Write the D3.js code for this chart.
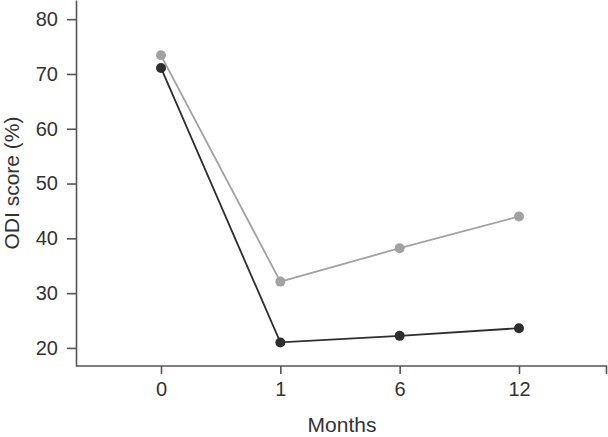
<!DOCTYPE html>
<html lang="en">
  <head>
    <meta charset="utf-8">
    <title>ODI score</title>
    <script src="https://cdn.jsdelivr.net/npm/d3@7"></script>
    <style>
      body { margin: 0; background: #fff; }
      svg { display: block; font-family: "Liberation Sans", Arial, sans-serif; }
    </style>
  </head>
  <body>
    <script>
      var months = ["0", "1", "6", "12"];
      var grayValues = [73.4, 32.1, 38.2, 44.0];
      var blackValues = [71.1, 21.0, 22.2, 23.6];
      var yTicks = [20, 30, 40, 50, 60, 70, 80];

      var w = 608;
      var h = 437;
      var left = 76;     // y axis position
      var bottom = 366;  // x axis position
      var axisColor = "#555";
      var textColor = "#333";

      var svg = d3.select("body")
                  .append("svg")
                  .attr("width", w)
                  .attr("height", h);

      // categories evenly spaced
      var xScale = d3.scalePoint()
                     .domain(months)
                     .range([161, 519]);

      var yScale = d3.scaleLinear()
                     .domain([16.7, 83.5])
                     .range([bottom, 0]);

      // y axis
      var yAxis = d3.axisLeft(yScale)
                    .tickValues(yTicks)
                    .tickSizeInner(9)
                    .tickSizeOuter(0)
                    .tickPadding(9);

      var gy = svg.append("g")
         .attr("transform", "translate(" + left + ",0)")
         .call(yAxis);
      gy.select(".domain").attr("stroke", axisColor).attr("stroke-width", 1.6);
      gy.selectAll(".tick line").attr("stroke", axisColor).attr("stroke-width", 1.6);
      gy.selectAll(".tick text")
        .attr("fill", textColor)
        .attr("font-size", "20px");

      // x axis
      var xAxis = d3.axisBottom(xScale)
                    .tickSizeInner(8)
                    .tickSizeOuter(0)
                    .tickPadding(8);

      var gx = svg.append("g")
         .attr("transform", "translate(0," + bottom + ")")
         .call(xAxis);
      gx.select(".domain")
        .attr("d", "M" + left + ",0H" + (w - 1.5) + "V8")
        .attr("stroke", axisColor)
        .attr("stroke-width", 1.6);
      gx.selectAll(".tick line").attr("stroke", axisColor).attr("stroke-width", 1.6);
      gx.selectAll(".tick text")
        .attr("fill", textColor)
        .attr("font-size", "20px");

      // axis titles
      svg.append("text")
         .attr("x", (left + w) / 2)
         .attr("y", 432)
         .attr("text-anchor", "middle")
         .attr("font-size", "21px")
         .attr("fill", textColor)
         .text("Months");

      svg.append("text")
         .attr("transform", "translate(19,183) rotate(-90)")
         .attr("text-anchor", "middle")
         .attr("font-size", "21px")
         .attr("fill", textColor)
         .text("ODI score (%)");

      var line = d3.line()
                   .x(function (d, i) { return xScale(months[i]); })
                   .y(function (d) { return yScale(d); });

      var series = [
        { values: grayValues, color: "#a2a2a2" },
        { values: blackValues, color: "#2e2e2e" }
      ];

      series.forEach(function (s) {
        svg.append("path")
           .datum(s.values)
           .attr("fill", "none")
           .attr("stroke", s.color)
           .attr("stroke-width", 1.8)
           .attr("d", line);

        svg.selectAll(null)
           .data(s.values)
           .enter()
           .append("circle")
           .attr("cx", function (d, i) { return xScale(months[i]); })
           .attr("cy", function (d) { return yScale(d); })
           .attr("r", 5)
           .attr("fill", s.color);
      });
    </script>
  </body>
</html>
